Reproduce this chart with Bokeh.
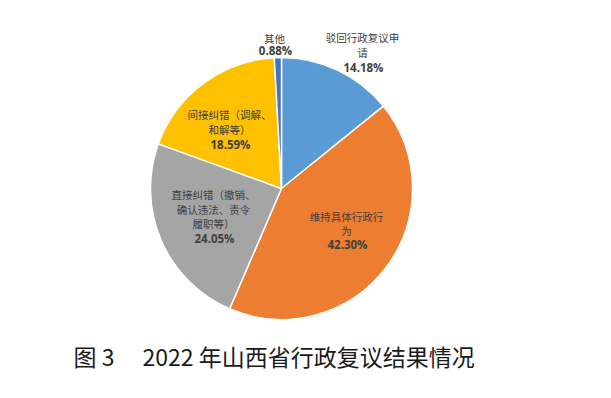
import numpy as np
from bokeh.plotting import figure
from bokeh.models import Range1d, ColumnDataSource
from bokeh.core.properties import value
from bokeh.embed import file_html
from bokeh.resources import INLINE

# ---- data ----
categories = ["驳回行政复议申\n请", "维持具体行政行\n为", "直接纠错（撤销、\n确认违法、责令\n履职等）",
              "间接纠错（调解、\n和解等）", "其他"]
shares = [14.18, 42.30, 24.05, 18.59, 0.88]
pct_labels = ["14.18%", "42.30%", "24.05%", "18.59%", "0.88%"]
colors = ["#5B9BD5", "#ED7D31", "#A5A5A5", "#FFC000", "#4472C4"]
caption_a = "图 3"
caption_b = "2022 年山西省行政复议结果情况"

# ---- layout (page pixel coords; data y = 398 - page y) ----
W, H = 595, 382
def py(y):
    return 398 - y

cx, cy, r = 281, py(188), 131
label_x = [362, 346, 213, 229, 274]
label_y0 = [37, 216, 194, 114, 37.5]
line_gap = [14.8, 14.2, 14.5, 15, 12.5]

p = figure(width=W, height=H, x_range=Range1d(0, W), y_range=Range1d(398 - H, 398),
           output_backend="svg", toolbar_location=None, min_border=0)
p.axis.visible = False
p.grid.visible = False
p.outline_line_color = None
p.background_fill_color = "white"
p.border_fill_color = "white"

frac = np.array(shares) / np.sum(shares)
cum = np.concatenate([[0], np.cumsum(frac)])
starts = np.pi / 2 - 2 * np.pi * cum[:-1]
ends = np.pi / 2 - 2 * np.pi * cum[1:]

src = ColumnDataSource(dict(start=starts, end=ends, color=colors))
p.wedge(x=cx, y=cy, radius=r, start_angle="start", end_angle="end", direction="clock",
        fill_color="color", line_color="white", line_width=1.5, source=src)

# labels: split name lines
nx, ny, ntxt = [], [], []
px_, py_, ptxt = [], [], []
for i, name in enumerate(categories):
    lines = name.split("\n")
    for j, ln in enumerate(lines):
        nx.append(label_x[i])
        ny.append(py(label_y0[i] + j * line_gap[i]))
        ntxt.append(ln)
    px_.append(label_x[i] + 1)
    py_.append(py(label_y0[i] + len(lines) * line_gap[i]))
    ptxt.append(pct_labels[i])

p.text(x=nx, y=ny, text=ntxt, text_align="center", text_baseline="middle",
       text_font=value("Noto Sans CJK SC"), text_font_size="10.5px", text_color="#404040")
p.text(x=px_, y=py_, text=ptxt, text_align="center", text_baseline="middle",
       text_font=value("Open Sans"), text_font_size="11.5px", text_font_style="bold",
       text_color="#404040")

p.text(x=[73], y=[py(355)], text=[caption_a], text_align="left", text_baseline="middle",
       text_font=value("Noto Sans CJK SC"), text_font_size="23px", text_color="#1a1a1a")
p.text(x=[142], y=[py(355)], text=[caption_b], text_align="left", text_baseline="middle",
       text_font=value("Noto Sans CJK SC"), text_font_size="23px", text_color="#1a1a1a")

open("out.html", "w").write(file_html(p, INLINE))
